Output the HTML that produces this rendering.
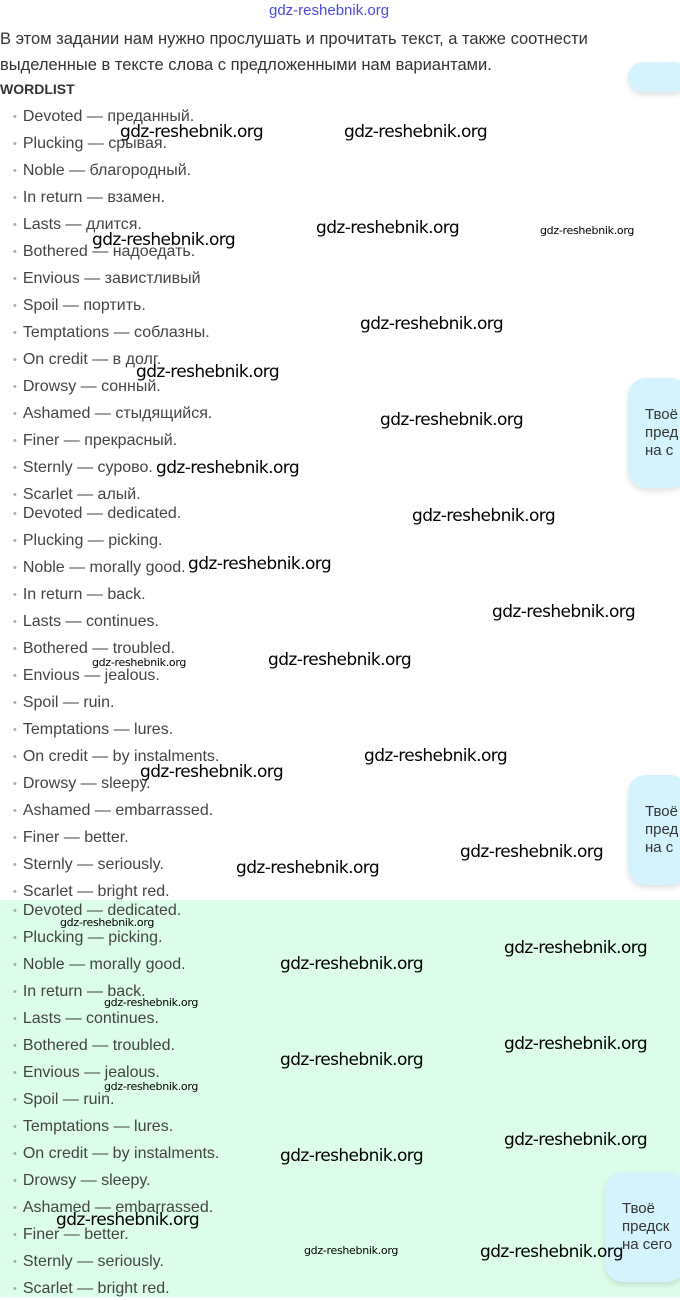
<!DOCTYPE html>
<html><head><meta charset="utf-8"><style>
body{margin:0;width:680px;height:1297px;position:relative;overflow:hidden;background:#fff;font-family:"Liberation Sans",sans-serif}
.g{position:absolute;left:0;top:900px;width:680px;height:397px;background:#dcfde9}
.t{position:absolute;left:0;font-size:16.5px;color:#333;white-space:nowrap}
.li{position:absolute;left:13px;font-size:16px;color:#444;white-space:nowrap;line-height:20px}
.li:before{content:"•";color:#aaa;font-size:11px;margin-right:6px;position:relative;top:-1px}
.w{position:absolute;font-size:17px;color:#000;white-space:nowrap;font-family:"DejaVu Sans",sans-serif;letter-spacing:-0.6px}
.s{font-size:11px;letter-spacing:-0.3px}
.b{position:absolute;background:#d4f3fd;border-radius:18px;box-shadow:0 3px 6px rgba(0,0,0,.12);font-size:15px;color:#333;line-height:18px;padding:28px 0 0 17px;box-sizing:border-box;white-space:nowrap;overflow:hidden}
</style></head><body>
<div class="g"></div>
<div class="t" style="left:269px;top:2px;color:#4a4ae0;font-size:15px">gdz-reshebnik.org</div>
<div class="t" style="top:30px">В этом задании нам нужно прослушать и прочитать текст, а также соотнести</div>
<div class="t" style="top:56px">выделенные в тексте слова с предложенными нам вариантами.</div>
<div class="t" style="top:81px;font-weight:bold;font-size:14px">WORDLIST</div>
<div class="b" style="left:628px;top:62px;width:60px;height:30px"></div>
<div class="b" style="left:628px;top:378px;width:60px;height:110px">Твоё<br>пред<br>на с</div>
<div class="b" style="left:628px;top:775px;width:60px;height:110px">Твоё<br>пред<br>на с</div>
<div class="b" style="left:605px;top:1172px;width:80px;height:110px">Твоё<br>предск<br>на сего</div>
<div id="L"></div>
<script>
var a=["Devoted — преданный.","Plucking — срывая.","Noble — благородный.","In return — взамен.","Lasts — длится.","Bothered — надоедать.","Envious — завистливый","Spoil — портить.","Temptations — соблазны.","On credit — в долг.","Drowsy — сонный.","Ashamed — стыдящийся.","Finer — прекрасный.","Sternly — сурово.","Scarlet — алый."];
var b=["Devoted — dedicated.","Plucking — picking.","Noble — morally good.","In return — back.","Lasts — continues.","Bothered — troubled.","Envious — jealous.","Spoil — ruin.","Temptations — lures.","On credit — by instalments.","Drowsy — sleepy.","Ashamed — embarrassed.","Finer — better.","Sternly — seriously.","Scarlet — bright red."];
var h="";
function add(arr,y0){arr.forEach(function(s,i){h+='<div class="li" style="top:'+(y0+i*27-9)+'px">'+s+'</div>';});}
add(a,116);add(b,513);add(b,910);
var w=[[120,131],[344,131],[92,239],[316,227],[540,230,1],[360,323],[136,371],[380,419],[156,467],[412,515],[188,563],[492,611],[92,662,1],[268,659],[364,755],[140,771],[460,851],[236,867],[60,922,1],[504,947],[280,963],[104,1002,1],[504,1043],[280,1059],[104,1086,1],[504,1139],[280,1155],[56,1219],[304,1250,1],[480,1251]];
w.forEach(function(p){h+='<div class="w'+(p[2]?' s':'')+'" style="left:'+p[0]+'px;top:'+(p[1]-(p[2]?6:9))+'px">gdz-reshebnik.org</div>';});
document.getElementById("L").innerHTML=h;
</script>
</body></html>
